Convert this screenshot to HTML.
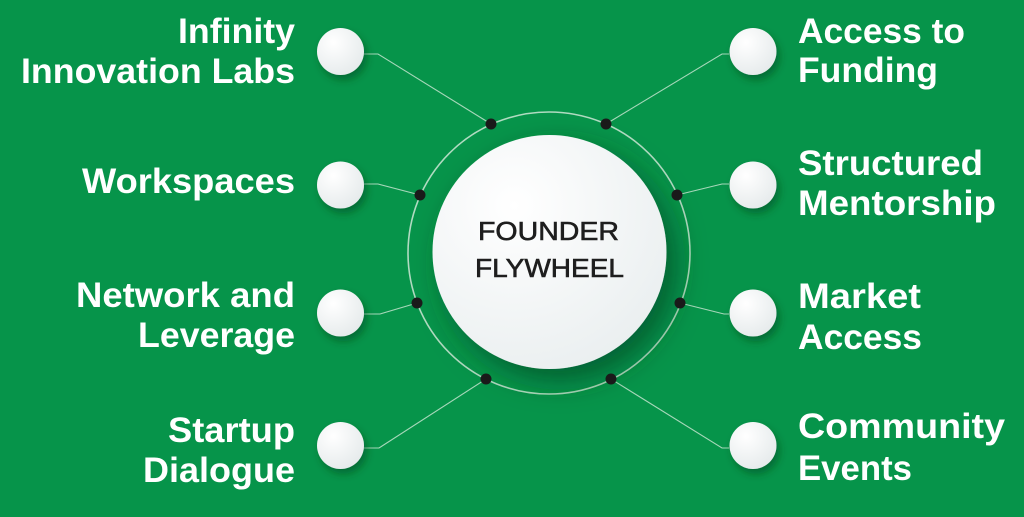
<!DOCTYPE html>
<html><head><meta charset="utf-8"><style>
html,body{margin:0;padding:0;background:#06944a;}
svg{display:block;}
.t{font-family:"Liberation Sans",Arial,sans-serif;font-weight:bold;font-size:35px;fill:#ffffff;}
.c{font-family:"Liberation Sans",Arial,sans-serif;font-size:26px;fill:#1e1e1e;stroke:#1e1e1e;stroke-width:0.6px;}
</style></head><body>
<svg width="1024" height="517" viewBox="0 0 1024 517" xmlns="http://www.w3.org/2000/svg">
<defs>
<filter id="bigsh" x="-50%" y="-50%" width="200%" height="200%">
<feDropShadow dx="10" dy="12" stdDeviation="14" flood-color="#00381a" flood-opacity="0.55"/>
</filter>
<filter id="sm" x="-50%" y="-50%" width="200%" height="200%">
<feDropShadow dx="3" dy="5" stdDeviation="4" flood-color="#00381a" flood-opacity="0.45"/>
</filter>
<radialGradient id="g1" cx="35%" cy="30%" r="80%">
<stop offset="0" stop-color="#ffffff"/><stop offset="1" stop-color="#e9eeef"/>
</radialGradient>
<radialGradient id="g2" cx="35%" cy="30%" r="80%">
<stop offset="0" stop-color="#ffffff"/><stop offset="1" stop-color="#e4e9ea"/>
</radialGradient>
</defs>
<rect width="1024" height="517" fill="#06944a"/>
<!-- ring -->
<circle cx="549" cy="253" r="141" fill="none" stroke="#cfe8d6" stroke-opacity="0.85" stroke-width="1.6"/>
<!-- connectors -->
<g fill="none" stroke="#cfe8d6" stroke-opacity="0.8" stroke-width="1.1">
<path d="M364,54 H378 L491,124"/>
<path d="M364,184 H378 L420,195"/>
<path d="M364,314 H380 L417,303"/>
<path d="M364,448 H379 L486,379"/>
<path d="M729,54 H722 L606,124"/>
<path d="M729,184 H722 L677,195"/>
<path d="M729,314 H724 L680,303"/>
<path d="M729,448 H722 L611,379"/>
</g>
<!-- center circle -->
<circle cx="549.5" cy="252" r="117" fill="url(#g1)" filter="url(#bigsh)"/>
<!-- dots -->
<g fill="#1a1a1a">
<circle cx="491" cy="124" r="5.5"/>
<circle cx="606" cy="124" r="5.5"/>
<circle cx="420" cy="195" r="5.5"/>
<circle cx="677" cy="195" r="5.5"/>
<circle cx="417" cy="303" r="5.5"/>
<circle cx="680" cy="303" r="5.5"/>
<circle cx="486" cy="379" r="5.5"/>
<circle cx="611" cy="379" r="5.5"/>
</g>
<!-- small circles -->
<g fill="url(#g2)" filter="url(#sm)">
<circle cx="340.5" cy="51.5" r="23.5"/>
<circle cx="340.5" cy="185" r="23.5"/>
<circle cx="340.5" cy="313" r="23.5"/>
<circle cx="340.5" cy="445.5" r="23.5"/>
<circle cx="753" cy="51.5" r="23.5"/>
<circle cx="753" cy="185" r="23.5"/>
<circle cx="753" cy="313" r="23.5"/>
<circle cx="753" cy="445.5" r="23.5"/>
</g>
<!-- center text -->
<text class="c" x="478" y="240" textLength="141" lengthAdjust="spacingAndGlyphs">FOUNDER</text>
<text class="c" x="475" y="277" textLength="149" lengthAdjust="spacingAndGlyphs">FLYWHEEL</text>
<!-- left labels -->
<g class="t">
<text x="178" y="43" textLength="117" lengthAdjust="spacingAndGlyphs">Infinity</text>
<text x="21" y="83" textLength="274" lengthAdjust="spacingAndGlyphs">Innovation Labs</text>
<text x="82" y="193" textLength="213" lengthAdjust="spacingAndGlyphs">Workspaces</text>
<text x="76" y="307" textLength="219" lengthAdjust="spacingAndGlyphs">Network and</text>
<text x="138" y="347" textLength="157" lengthAdjust="spacingAndGlyphs">Leverage</text>
<text x="168" y="442" textLength="127" lengthAdjust="spacingAndGlyphs">Startup</text>
<text x="143" y="482" textLength="152" lengthAdjust="spacingAndGlyphs">Dialogue</text>
</g>
<!-- right labels -->
<g class="t">
<text x="798" y="43" textLength="167" lengthAdjust="spacingAndGlyphs">Access to</text>
<text x="798" y="82" textLength="140" lengthAdjust="spacingAndGlyphs">Funding</text>
<text x="798" y="175" textLength="185" lengthAdjust="spacingAndGlyphs">Structured</text>
<text x="798" y="215" textLength="198" lengthAdjust="spacingAndGlyphs">Mentorship</text>
<text x="798" y="308" textLength="123" lengthAdjust="spacingAndGlyphs">Market</text>
<text x="798" y="349" textLength="124" lengthAdjust="spacingAndGlyphs">Access</text>
<text x="798" y="438" textLength="207" lengthAdjust="spacingAndGlyphs">Community</text>
<text x="798" y="480" textLength="114" lengthAdjust="spacingAndGlyphs">Events</text>
</g>
</svg>
</body></html>
